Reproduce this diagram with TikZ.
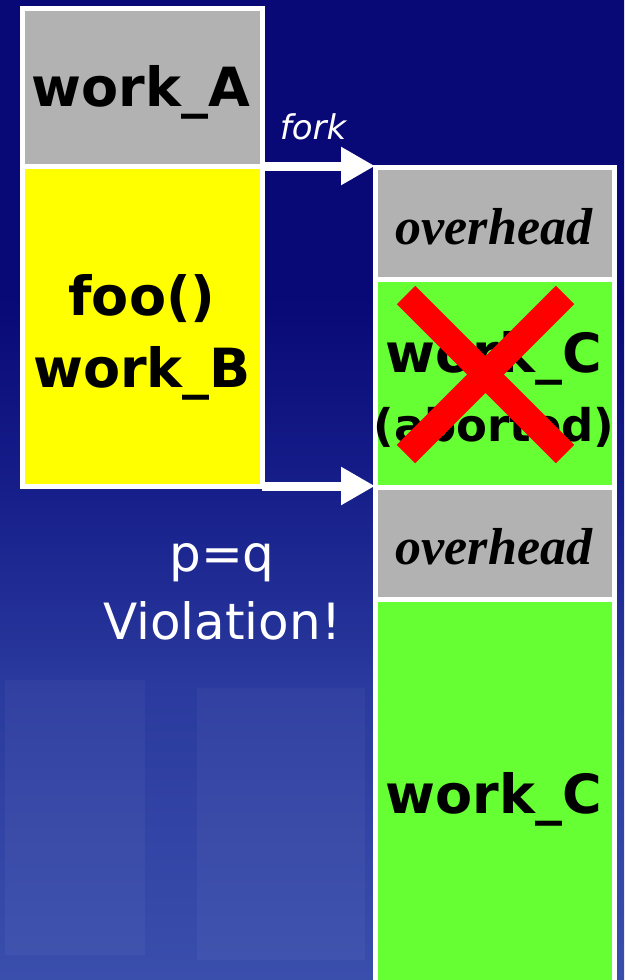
\documentclass[tikz,border=0pt]{standalone}
\usepackage{fontspec}
\usetikzlibrary{arrows.meta}
\newfontfamily\comicf{DejaVu Sans}
\newfontfamily\ohfont{Liberation Serif}
\newfontfamily\lucid{DejaVu Sans}
\newfontfamily\forkfont{DejaVu Sans Oblique}
\definecolor{boxgray}{RGB}{178,178,178}
\definecolor{boxyellow}{RGB}{255,255,0}
\definecolor{boxgreen}{RGB}{102,255,51}
\definecolor{xred}{RGB}{255,0,0}
\definecolor{bgtop}{RGB}{8,8,118}
\definecolor{bgmid}{RGB}{22,30,138}
\definecolor{bglow}{RGB}{42,58,158}
\definecolor{bgbot}{RGB}{58,78,172}
\pgfdeclareverticalshading{bgshade}{100bp}{color(0bp)=(bgbot); color(25bp)=(bgbot); color(40bp)=(bglow); color(50bp)=(bgmid); color(60bp)=(bgtop); color(100bp)=(bgtop)}
\begin{document}
\begin{tikzpicture}[x=1pt,y=-1pt,
  box/.style={draw=white, line width=5pt, outer sep=0pt, inner sep=0pt, anchor=north west, text=black, align=center},
  worktxt/.style={font=\comicf\bfseries\fontsize{54}{72}\selectfont},
  abtxt/.style={font=\comicf\bfseries\fontsize{45}{60}\selectfont},
  ohtxt/.style={font=\ohfont\bfseries\itshape\fontsize{52}{60}\selectfont},
  fatarrow/.style={draw=white, line width=9pt, -{Triangle[length=34pt,width=36pt]}},
  xstroke/.style={draw=xred, line width=26pt},
  bgblock/.style={fill=white, fill opacity=0.04, draw=none}]
\useasboundingbox (0,0) rectangle (624,980);
\clip (0,0) rectangle (624,980);
% background
\shade[shading=bgshade] (0,0) rectangle (624,980);
\fill[bgblock] (5,680) rectangle (145,955);
\fill[bgblock] (197,688) rectangle (365,960);
% left column
\node[box, fill=boxgray, minimum width=240pt, minimum height=158pt] (A) at (22,8) {};
\node[worktxt] (Atxt) at (141,92) {work\_A};
\node[box, fill=boxyellow, minimum width=240pt, minimum height=320pt] (B) at (22,166) {};
\node[worktxt, align=center] (Btxt) at (142,337) {foo()\\work\_B};
% right column
\node[box, fill=boxgray, minimum width=239pt, minimum height=112pt] (oh1) at (375,167) {};
\node[ohtxt] (oh1txt) at (494,227) {overhead};
\node[box, fill=boxgreen, minimum width=239pt, minimum height=208pt] (ab) at (375,279) {};
\node[worktxt] (abtxt1) at (494,358) {work\_C};
\node[abtxt] (abtxt2) at (494,427) {(aborted)};
\node[box, fill=boxgreen, minimum width=239pt, minimum height=392pt] (wc) at (375,599) {};
\node[box, fill=boxgray, minimum width=239pt, minimum height=112pt] (oh2) at (375,487) {};
\node[ohtxt] (oh2txt) at (494,547) {overhead};
\node[worktxt] (wctxt) at (494,799) {work\_C};
% red cross
\coordinate (x1) at (406,295);
\coordinate (x2) at (565,454);
\coordinate (x3) at (565,295);
\coordinate (x4) at (406,454);
\draw[xstroke] (x1) -- (x2);
\draw[xstroke] (x3) -- (x4);
% arrows
\draw[fatarrow] (A.south east) -- (A.south east -| oh1.west);
\draw[fatarrow] (B.south east) -- (B.south east -| oh2.west);
\node[text=white, font=\forkfont\fontsize{34}{40}\selectfont] (fork) at (313,127) {fork};
% violation
\node[text=white, font=\lucid\fontsize{50}{68}\selectfont, align=center] (viol) at (222,592) {p=q\\Violation!};
\end{tikzpicture}
\end{document}
